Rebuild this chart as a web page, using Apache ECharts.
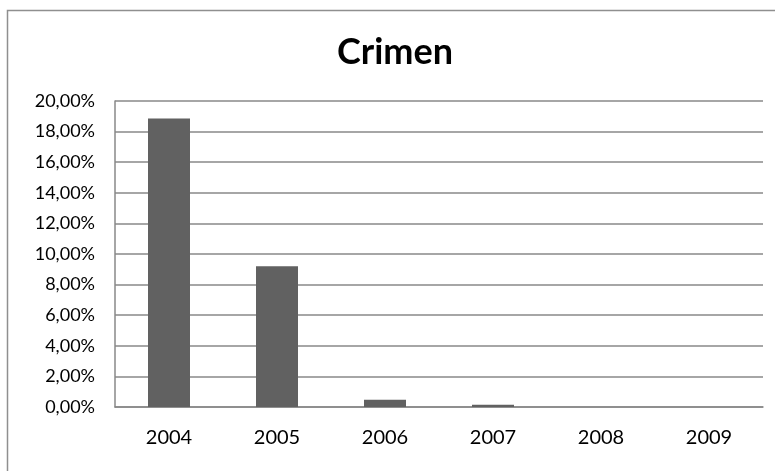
<!DOCTYPE html>
<html>
<head>
    <meta charset="utf-8">
    <title>Crimen</title>
    <script src="https://cdn.jsdelivr.net/npm/echarts@6/dist/echarts.min.js"></script>
    <style>
        html, body { margin: 0; padding: 0; background: #ffffff; }
        #chart { width: 775px; height: 471px; }
    </style>
</head>
<body>
<div id="chart"></div>
<script>
    // datos
    var years = ['2004', '2005', '2006', '2007', '2008', '2009'];
    var crimen = [18.85, 9.2, 0.48, 0.15, 0, 0];
    var yTicks = [0, 2, 4, 6, 8, 10, 12, 14, 16, 18, 20];

    var chart = echarts.init(document.getElementById('chart'));

    var option = {
        animation: false,
        textStyle: {fontFamily: 'Lato, "Open Sans", sans-serif'},
        title: {
            text: 'Crimen',
            left: 332,
            top: 29,
            textStyle: {fontSize: 36, fontWeight: 'bold', color: '#000000', fontFamily: 'Lato, sans-serif'}
        },
        graphic: [{
            type: 'rect',
            shape: {x: 7.5, y: 10.5, width: 800, height: 500},
            style: {fill: 'none', stroke: '#8f8f8f', lineWidth: 1.5},
            silent: true
        }],
        grid: {left: 115, right: 12, top: 101, bottom: 64},
        xAxis: {
            type: 'category',
            data: years,
            axisLine: {lineStyle: {color: '#888888', width: 1.5}},
            axisTick: {show: false},
            axisLabel: {color: '#000000', fontSize: 20, margin: 21}
        },
        yAxis: {
            type: 'value',
            min: yTicks[0],
            max: yTicks[yTicks.length - 1],
            interval: 2,
            axisLine: {show: true, lineStyle: {color: '#888888', width: 1.5}},
            axisTick: {show: false},
            splitLine: {lineStyle: {color: '#888888', width: 1.5}},
            axisLabel: {
                color: '#000000',
                fontSize: 18,
                margin: 20,
                formatter: function (v) { return v.toFixed(2).replace('.', ',') + '%'; }
            }
        },
        series: [{
            type: 'bar',
            data: crimen,
            barWidth: 42,
            itemStyle: {color: '#616161'}
        }]
    };
    chart.setOption(option);
</script>
</body>
</html>
